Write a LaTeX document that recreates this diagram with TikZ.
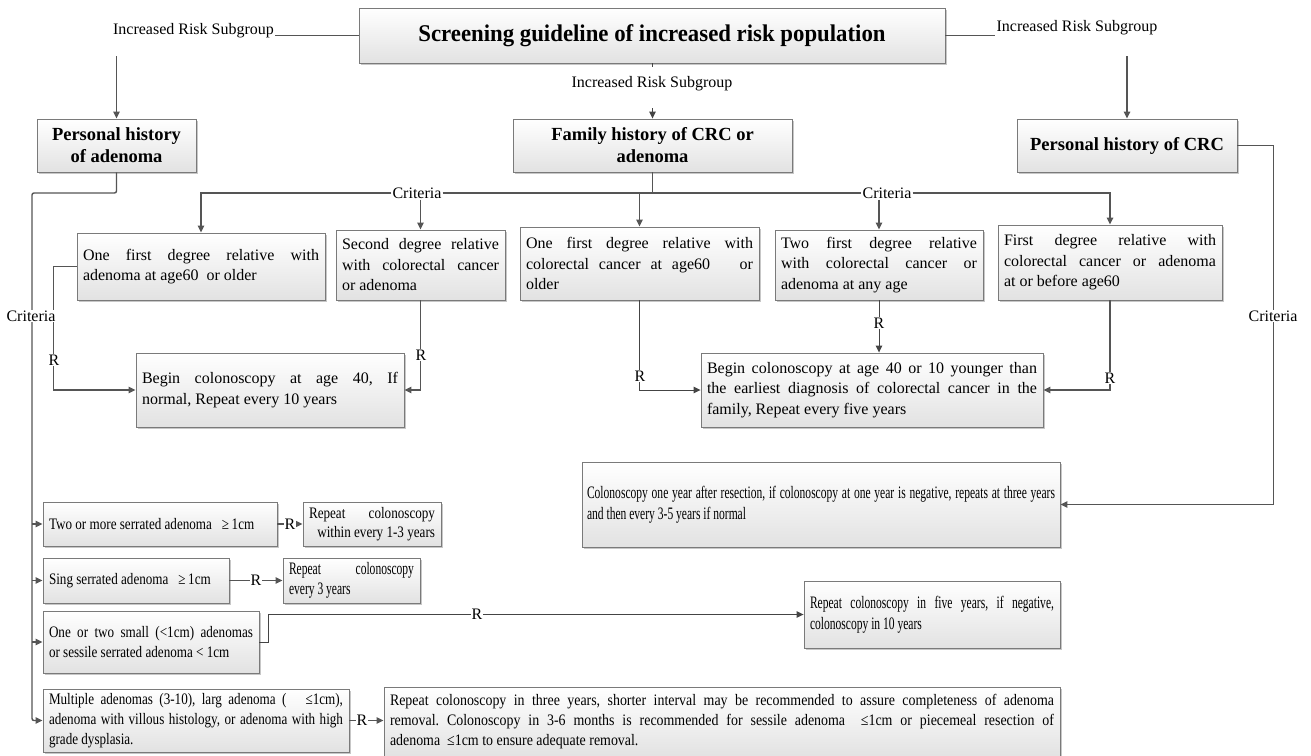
\documentclass[tikz,border=0pt]{standalone}
\usepackage{fontspec}
\setmainfont{Liberation Serif}
\newfontfamily\cndA[FakeStretch=0.82]{Liberation Serif}
\newfontfamily\cndB[FakeStretch=0.66]{Liberation Serif}
\newfontfamily\cndC[FakeStretch=0.87]{Liberation Serif}
\newfontfamily\ttlfont[FakeStretch=0.95]{Liberation Serif}
\usetikzlibrary{arrows.meta,shadows}
\definecolor{bordc}{HTML}{7A7A7A}
\definecolor{botc}{HTML}{E2E2E2}
\definecolor{linec}{HTML}{555555}
\newcommand\nl{\linebreak}
\frenchspacing
\tikzset{
 box/.style={draw=bordc, line width=0.9pt, top color=white, bottom color=botc,
   drop shadow={shadow xshift=1.5pt,shadow yshift=-1.5pt,fill=black,opacity=0.22},
   inner xsep=6pt, inner ysep=2pt, align=justify, font=\fontsize{16}{20.5}\selectfont},
 hbox/.style={box, align=center, font=\fontsize{18.5}{22}\selectfont\bfseries},
 lab/.style={font=\fontsize{16}{18}\selectfont, inner sep=1pt, fill=white},
 conn/.style={draw=linec, line width=1.4pt},
 thinl/.style={draw=linec!80!black, line width=0.9pt},
 tip/.style={-{Triangle[length=7pt,width=6.5pt]}},
}
\begin{document}
\begin{tikzpicture}[x=1pt,y=-1pt]
\fill[white] (0,0) rectangle (1311,755);
\useasboundingbox (0,0) rectangle (1311,755);

% headings
\node[hbox, minimum width=586pt, minimum height=55pt, font=\fontsize{24}{28}\ttlfont\bfseries] (title) at (652,35.5) {Screening guideline of increased risk population};
\node[hbox, minimum width=159pt, minimum height=53pt] (pha) at (116.5,145.5) {Personal history\\of adenoma};
\node[hbox, minimum width=279pt, minimum height=53pt] (fam) at (652.5,145.5) {Family history of CRC or\\adenoma};
\node[hbox, minimum width=220pt, minimum height=53pt] (pcrc) at (1127,145.5) {Personal history of CRC};

% subgroup labels
\node[lab, anchor=base] (lsub) at (193.5,34) {Increased Risk Subgroup};
\node[lab, anchor=base] (rsub) at (1077,31) {Increased Risk Subgroup};
\node[lab, anchor=base] (msub) at (652,87) {Increased Risk Subgroup};

% criteria boxes
\node[box, minimum width=248pt, minimum height=67pt, text width=236pt] (b1) at (201,266.5)
 {One first degree relative with\nl adenoma at age60~ or older};
\node[box, minimum width=169pt, minimum height=70pt, text width=157pt] (b2) at (420.5,265)
 {Second degree relative\nl with colorectal cancer\nl or adenoma};
\node[box, minimum width=239pt, minimum height=73pt, text width=227pt] (b3) at (639.5,263.5)
 {One first degree relative with\nl colorectal cancer at age60~~ or\nl older};
\node[box, minimum width=208pt, minimum height=70pt, text width=196pt] (b4) at (879,265)
 {Two first degree relative\nl with colorectal cancer or\nl adenoma at any age};
\node[box, minimum width=224pt, minimum height=75pt, text width=212pt] (b5) at (1110,262.5)
 {First degree relative with\nl colorectal cancer or adenoma\nl at or before age60};

\node[box, minimum width=268pt, minimum height=74pt, text width=256pt] (g1) at (270,390)
 {Begin colonoscopy at age 40, If\nl normal, Repeat every 10 years};
\node[box, minimum width=342pt, minimum height=74pt, text width=330pt] (g2) at (872,390)
 {Begin colonoscopy at age 40 or 10 younger than\nl the earliest diagnosis of colorectal cancer in the\nl family, Repeat every five years};

\node[box, minimum width=478pt, minimum height=85pt, text width=468pt, inner xsep=5pt, font=\fontsize{17.5}{20.5}\cndB] (col) at (821,504.5)
 {Colonoscopy one year after resection, if colonoscopy at one year is negative, repeats at three years\nl and then every 3-5 years if normal};

% adenoma branches
\node[box, minimum width=234pt, minimum height=44pt, text width=222pt, font=\fontsize{16}{20}\cndA] (s1) at (160,524)
 {Two or more serrated adenoma\ \ \ ≥\,1cm};
\node[box, minimum width=138pt, minimum height=44pt, text width=126pt, font=\fontsize{16}{19}\cndA] (r1) at (372,524)
 {Repeat colonoscopy\nl\hspace*{\fill}within every 1-3 years};
\node[box, minimum width=186pt, minimum height=45pt, text width=174pt, font=\fontsize{16}{20}\cndA] (s2) at (136,580.5)
 {Sing serrated adenoma\ \ \ ≥\,1cm};
\node[box, minimum width=137pt, minimum height=45pt, text width=125pt, font=\fontsize{17.5}{20}\cndB] (r2) at (351.5,580.5)
 {Repeat colonoscopy\nl every 3 years};
\node[box, minimum width=216pt, minimum height=62pt, text width=204pt, font=\fontsize{16}{20}\cndA] (s3) at (151,642)
 {One or two small (<1cm) adenomas\nl or sessile serrated adenoma < 1cm};
\node[box, minimum width=256pt, minimum height=67pt, text width=244pt, font=\fontsize{17.5}{20.5}\cndB] (r3) at (932,614.5)
 {Repeat colonoscopy in five years, if negative,\nl colonoscopy in 10 years};
\node[box, minimum width=306pt, minimum height=63pt, text width=294pt, font=\fontsize{16}{20}\cndA] (s4) at (196,720.5)
 {Multiple adenomas (3-10), larg adenoma (\ \ \ ≤1cm),\nl adenoma with villous histology, or adenoma with high\nl grade dysplasia.};
\node[box, minimum width=676pt, minimum height=70pt, text width=664pt, font=\fontsize{16}{20}\cndC] (r4) at (722,722)
 {Repeat colonoscopy in three years, shorter interval may be recommended to assure completeness of adenoma\nl removal. Colonoscopy in 3-6 months is recommended for sessile adenoma\ \ ≤1cm or piecemeal resection of\nl adenoma\ \ ≤1cm to ensure adequate removal.};

% top connectors
\draw[conn] (title.west) -- (title.west -| lsub.east);
\draw[conn] (title.east) -- (title.east -| rsub.west);
\coordinate (ca) at (116.5,56);
\coordinate (cb) at (1127,56);
\coordinate (cm) at (652.5,108);
\draw[conn,tip] (ca) -- (pha.north);
\draw[conn,tip] (cb) -- (pcrc.north);
\draw[thinl] (title.south) -- ++(0,4);
\draw[thinl,tip] (cm) -- (fam.north);

% criteria line of family history
\node[lab] (crit1) at (417,193) {Criteria};
\node[lab] (crit2) at (887,193) {Criteria};
\draw[conn] (fam.south) -- (fam.south |- crit1.east);
\draw[conn] (crit1.east) -- (crit2.west);
\draw[conn,tip] (crit1.west) -| (b1.north);
\draw[conn,tip] (crit2.east) -| (b5.north);
\draw[conn,tip] (crit1.south -| b2.north) -- (b2.north);
\draw[conn,tip] (b3.north |- crit1.east) -- (b3.north);
\draw[conn,tip] (crit2.south -| b4.north) -- (b4.north);

% R connectors to begin boxes
\draw[conn,tip] (b1.west) -- ++(-23,0) |- (g1.west);
\draw[conn,tip] (b2.south) |- (g1.east);
\draw[thinl,tip] (b3.south) |- (g2.west);
\draw[thinl,tip] (b4.south) -- (b4.south |- g2.north);
\draw[conn,tip] (b5.south) |- (g2.east);

% personal history of CRC
\draw[conn,tip] (pcrc.east) -- ++(36,0) |- (col.east);

% left trunk
\coordinate (lt) at (32,193);
\draw[conn,tip,rounded corners=2pt] (pha.south) |- (lt) |- (s4.west);
\draw[conn,tip] (s1.west -| lt) -- (s1.west);
\draw[conn,tip] (s2.west -| lt) -- (s2.west);
\draw[conn,tip] (s3.west -| lt) -- (s3.west);

% R connectors bottom
\draw[conn,tip] (s1.east) -- (r1.west);
\draw[conn,tip] (s2.east) -- (r2.west);
\draw[thinl,tip] (s3.east) -- ++(9,0) |- (r3.west);
\draw[conn,tip] (s4.east) -- (s4.east -| r4.west);

% labels on connectors
\node[lab] (rA) at (54,360) {R};
\node[lab] (rB) at (421,355) {R};
\node[lab] (rC) at (640,376) {R};
\node[lab] (rD) at (879,323) {R};
\node[lab] (rE) at (1110,378) {R};
\node[lab] (rF) at (290,524) {R};
\node[lab] (rG) at (256,580.5) {R};
\node[lab] (rH) at (477,614.5) {R};
\node[lab] (rI) at (362,720.5) {R};
\node[lab] (critL) at (31,316) {Criteria};
\node[lab] (critR) at (1273,316) {Criteria};
\end{tikzpicture}
\end{document}
